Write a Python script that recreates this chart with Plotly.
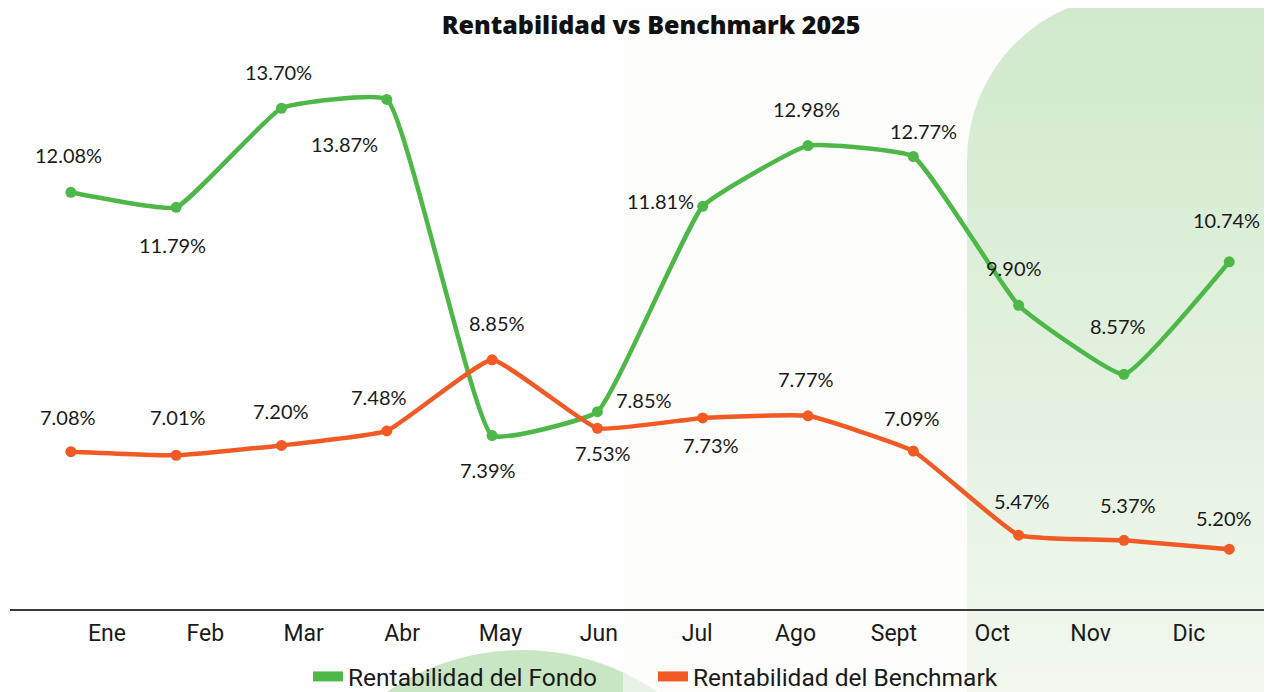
import base64
import plotly.graph_objects as go

# ---------------- data ----------------
months = ["Ene", "Feb", "Mar", "Abr", "May", "Jun", "Jul", "Ago", "Sept", "Oct", "Nov", "Dic"]
fondo = [12.08, 11.79, 13.70, 13.87, 7.39, 7.85, 11.81, 12.98, 12.77, 9.90, 8.57, 10.74]
bench = [7.08, 7.01, 7.20, 7.48, 8.85, 7.53, 7.73, 7.77, 7.09, 5.47, 5.37, 5.20]
series_names = ["Rentabilidad del Fondo", "Rentabilidad del Benchmark"]
title_text = "Rentabilidad vs Benchmark 2025"

# ---------------- styles ----------------
GREEN = "#4db848"
ORANGE = "#f15a24"
TEXT = "#1a1a1a"
W, H = 1264, 691   # page body has an 8px margin

# label offsets in pixels (xshift, yshift)
fondo_off = [(-2, 37), (-4, -38), (-3, 36), (-42, -45), (-4, -34), (47, 12),
             (-42, 5), (-2, 37), (10, 25), (-5, 37), (-6, 48), (-3, 42)]
bench_off = [(-3, 35), (2, 38), (0, 34), (-8, 34), (5, 37), (6, -25),
             (8, -27), (-2, 37), (-1, 33), (3, 34), (4, 35), (-5, 31)]

idx = list(range(len(months)))

fig = go.Figure()
for vals, color, name in [(fondo, GREEN, series_names[0]), (bench, ORANGE, series_names[1])]:
    fig.add_trace(go.Scatter(
        x=idx, y=vals, mode="lines+markers", name=name, showlegend=False,
        line=dict(color=color, width=4.5, shape="spline", smoothing=0.35),
        marker=dict(color=color, size=11),
        hoverinfo="skip",
    ))
# invisible trace registering the month-label axis
fig.add_trace(go.Scatter(x=idx, y=[None] * len(idx), xaxis="x2", yaxis="y",
                         mode="markers", showlegend=False, hoverinfo="skip"))
# legend swatches
for color, name in [(GREEN, series_names[0]), (ORANGE, series_names[1])]:
    fig.add_trace(go.Scatter(x=[None], y=[None], mode="lines", name=name,
                             line=dict(color=color, width=15)))

annotations = []
for vals, offs in [(fondo, fondo_off), (bench, bench_off)]:
    for i, v in enumerate(vals):
        annotations.append(dict(
            x=i, y=v, xref="x", yref="y", text=f"{v:.2f}%", showarrow=False,
            xanchor="center", yanchor="middle",
            xshift=offs[i][0], yshift=offs[i][1],
            font=dict(family="Lato", size=20, color=TEXT),
        ))

# decorative background (svg)
svg = f'''<svg xmlns="http://www.w3.org/2000/svg" width="{W}" height="{H}" viewBox="0 0 {W} {H}" preserveAspectRatio="none">
<defs><linearGradient id="g" x1="0" y1="0" x2="0" y2="1">
<stop offset="0" stop-color="#d0e9cb"/><stop offset="1" stop-color="#f2f8f0"/></linearGradient></defs>
<circle cx="514" cy="880" r="238" fill="#c9e6c4"/>
<rect x="615" y="0" width="{W-615}" height="{H}" fill="#fbfcfa" fill-opacity="0.6"/>
<path d="M959,{H} L959,152 A165,165 0 0 1 1124,-13 L{W},-13 L{W},{H} Z" fill="url(#g)"/>
</svg>'''
src = "data:image/svg+xml;base64," + base64.b64encode(svg.encode()).decode()

y_dom = [1 - 601 / H, 1 - 42 / H]
x_dom = [2 / W, 1.0]

fig.update_layout(
    width=W, height=H,
    margin=dict(l=0, r=0, t=0, b=0),
    paper_bgcolor="white",
    plot_bgcolor="rgba(0,0,0,0)",
    title=dict(text=title_text, x=643 / W, y=1 - 17 / H, xanchor="center", yanchor="middle",
               font=dict(family="Open Sans", size=25, color="#111111", weight=800)),
    xaxis=dict(domain=x_dom, range=[-0.578, 11.406], visible=False, fixedrange=True),
    xaxis2=dict(overlaying="x", anchor="y", side="bottom", range=[-0.986, 11.844],
                tickmode="array", tickvals=idx, ticktext=months,
                showline=True, linecolor="#3a3a3a", linewidth=1.5,
                ticks="outside", ticklen=3, tickcolor="rgba(0,0,0,0)",
                tickfont=dict(family="Roboto", size=23, color=TEXT),
                showgrid=False, zeroline=False),
    yaxis=dict(domain=y_dom, range=[4.046, 14.823], visible=False),
    legend=dict(orientation="h", x=300 / W, xanchor="left", y=0, yanchor="bottom",
                entrywidth=300, entrywidthmode="pixels",
                font=dict(family="Roboto", size=24.5, color=TEXT), bgcolor="rgba(0,0,0,0)"),
    annotations=annotations,
    images=[dict(source=src, xref="paper", yref="paper", x=0, y=1, sizex=1, sizey=1,
                 xanchor="left", yanchor="top", sizing="stretch", layer="below")],
    showlegend=True,
)

fig.write_html("out.html")
